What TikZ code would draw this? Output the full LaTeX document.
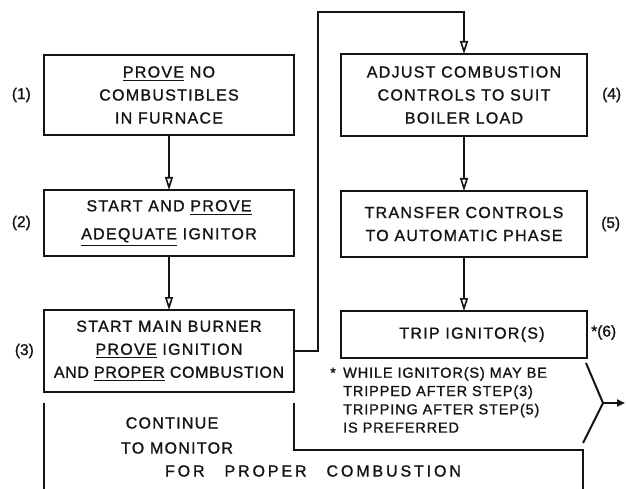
\documentclass[tikz,border=0pt]{standalone}
\usepackage{fontspec}
\setmainfont{Liberation Sans}
\usetikzlibrary{arrows.meta,positioning}
\definecolor{DraftInk}{HTML}{141414}

\newcommand{\boxfont}{\fontsize{16}{23}\selectfont\addfontfeature{LetterSpace=8,FakeBold=1.2}}
\newcommand{\notefont}{\fontsize{14.5}{18.3}\selectfont\addfontfeature{LetterSpace=6,FakeBold=1.2}}
\newcommand{\tagfont}{\fontsize{15.5}{18}\selectfont\addfontfeature{FakeBold=1.2}}
\newcommand{\stressed}[1]{\leavevmode\vtop{\hbox{#1}\kern2.2pt\hrule height 1.3pt}}

\begin{document}
\begin{tikzpicture}[x=1pt,y=-1pt,
  stepbox/.style={rectangle,draw=DraftInk,line width=2pt,align=center,minimum width=250pt,inner sep=0pt,outer sep=0pt,font=\boxfont,text=DraftInk},
  steptag/.style={font=\tagfont,text=DraftInk,inner sep=0pt},
  wire/.style={draw=DraftInk,line width=2pt},
  arrow/.style={wire,-{Triangle[open,length=13pt,width=8pt,line width=1.6pt]}}
]
\useasboundingbox (0,0) rectangle (626,489);

% left column
\node[stepbox,minimum height=80pt] (prove) at (169,95) {\stressed{PROVE} NO\\COMBUSTIBLES\\IN FURNACE};
\node[stepbox,minimum height=66pt,below=55pt of prove] (ignitor) {START AND \stressed{PROVE}\\[5pt]\stressed{ADEQUATE} IGNITOR};
\node[stepbox,minimum height=82pt,below=54pt of ignitor] (burner) {START MAIN BURNER\\\stressed{PROVE} IGNITION\\{\addfontfeature{LetterSpace=4}AND \stressed{PROPER} COMBUSTION}};

% right column
\node[stepbox,minimum width=246pt,minimum height=82pt,right=47pt of prove] (adjust) {ADJUST COMBUSTION\\CONTROLS TO SUIT\\BOILER LOAD};
\node[stepbox,minimum width=246pt,minimum height=66pt,below=55pt of adjust] (transfer) {TRANSFER CONTROLS\\TO AUTOMATIC PHASE};
\node[stepbox,minimum width=246pt,minimum height=47pt,below=54pt of transfer] (trip) {\hspace*{16pt}TRIP IGNITOR(S)};

% step numbers
\node[steptag,left=13pt of prove] (tag1) {(1)};
\node[steptag,left=13pt of ignitor] (tag2) {(2)};
\node[steptag,left=10pt of burner] (tag3) {(3)};
\node[steptag,right=15pt of adjust] (tag4) {(4)};
\node[steptag,right=14pt of transfer] (tag5) {(5)};
\node[steptag,right=4pt of trip,yshift=2pt] (tag6) {*(6)};

\draw[arrow] (prove) -- (ignitor);
\draw[arrow] (ignitor) -- (burner);
\draw[arrow] (adjust) -- (transfer);
\draw[arrow] (transfer) -- (trip);

% loop over to step 4
\coordinate (loop) at (318,12);
\draw[arrow] (burner.east) -| (loop) -| (adjust.north);

% footnote and its fork
\node[font=\notefont,text=DraftInk,align=left,inner sep=0pt,anchor=north west] (note) at (343,367) {\llap{*\ \,}WHILE IGNITOR(S) MAY BE\\TRIPPED AFTER STEP(3)\\TRIPPING AFTER STEP(5)\\IS PREFERRED};
\coordinate (fork) at (603,403);
\coordinate (out) at (625,403);
\draw[wire] ([xshift=-1pt,yshift=-5pt]trip.south east) -- (fork) -- (583,443);
\draw[wire,-{Triangle[length=8pt,width=7pt]}] (fork) -- (out);

% monitoring band
\draw[wire] ([yshift=-11pt]burner.south west) -- (44,489);
\draw[wire] ([yshift=-11pt]burner.south east) |- (583,450) -- (583,489);
\node[font=\boxfont,text=DraftInk] (cont1) at (172,423) {CONTINUE};
\node[font=\boxfont,text=DraftInk] (cont2) at (177,448) {TO MONITOR};
\node[font=\boxfont,text=DraftInk] (cont3) at (313,471) {\addfontfeature{LetterSpace=18}FOR\hspace{20pt}PROPER\hspace{20pt}COMBUSTION};
\end{tikzpicture}
\end{document}
